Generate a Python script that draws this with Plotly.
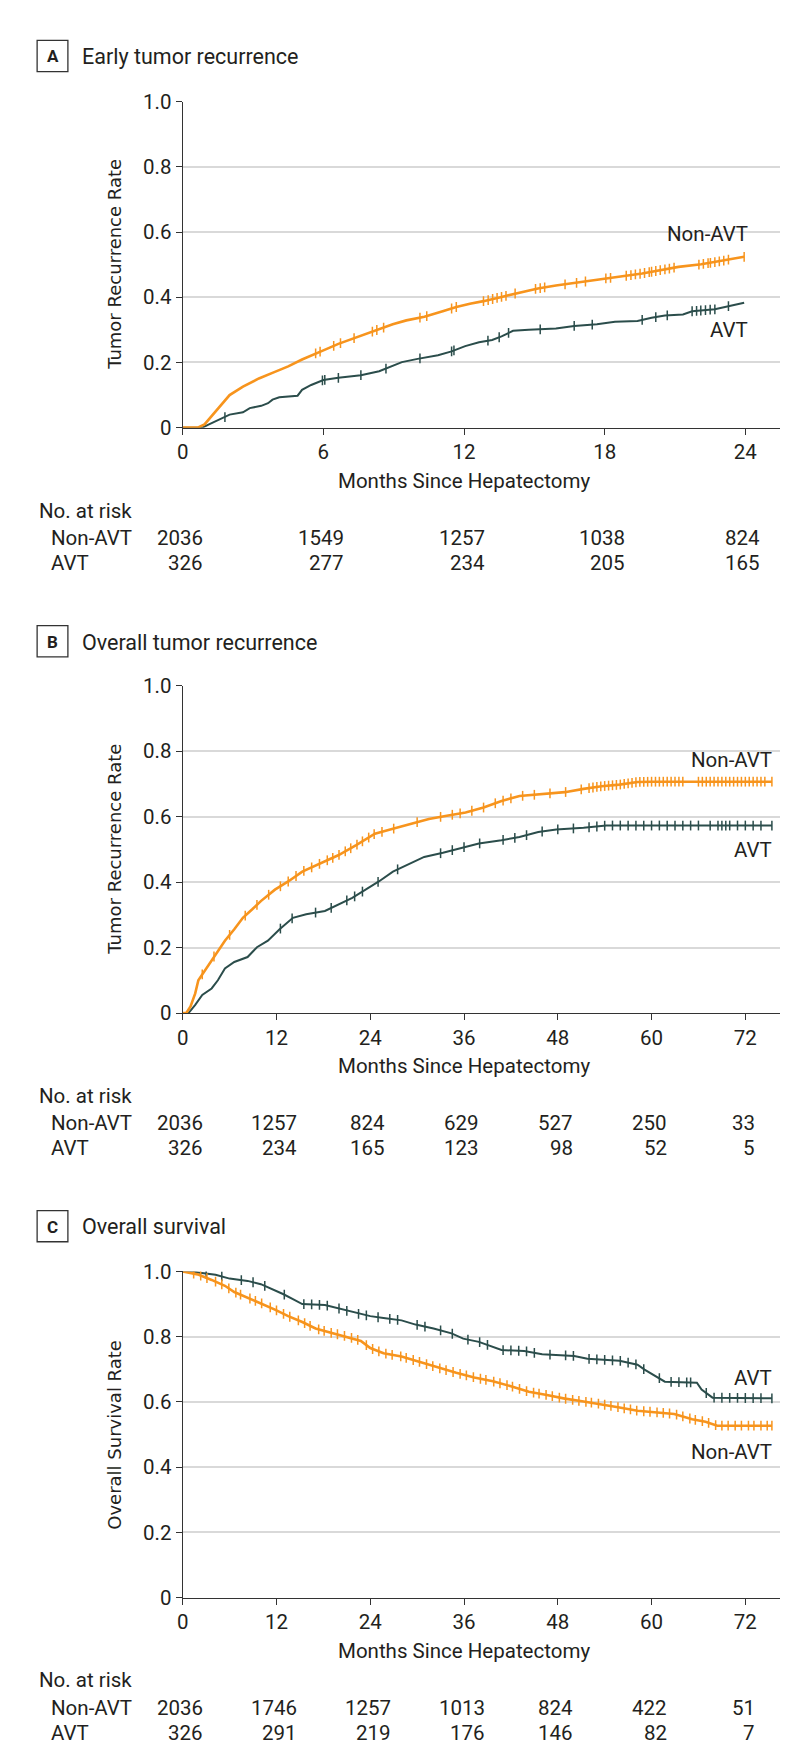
import numpy as np
import plotly.graph_objects as go

W, H = 798, 1764
ORANGE = "#F7941D"
TEAL = "#2B4D4B"
TXT = "#231F20"
FONT = "Roboto, Lato, 'Liberation Sans', sans-serif"
YFONT = "'DejaVu Sans', Verdana, sans-serif"

# ---------------- Panel A: Early tumor recurrence ----------------
a_non_t = [0, 0.64, 0.93, 1.41, 1.8, 2.0, 2.57, 3.25, 3.93, 4.5, 5.09, 5.67, 6.0, 6.64, 7.41, 8.18, 8.96,
           9.54, 10.31, 11.09, 11.67, 12.25, 12.83, 13.6, 14.38, 15.15, 15.92, 16.89, 17.86, 18.83, 19.6,
           20.38, 21.15, 22.12, 22.89, 23.95]
a_non_s = [0, 0, 0.01, 0.05, 0.086, 0.10, 0.126, 0.151, 0.171, 0.188, 0.209, 0.228, 0.237, 0.257, 0.277,
           0.297, 0.317, 0.329, 0.340, 0.357, 0.370, 0.380, 0.388, 0.401, 0.415, 0.427, 0.436, 0.445,
           0.456, 0.465, 0.473, 0.483, 0.493, 0.501, 0.510, 0.524]
a_non_cens = [5.67, 5.86, 6.44, 6.73, 7.31, 8.09, 8.28, 8.57, 10.12, 10.41, 11.47, 11.67, 12.83, 13.03,
              13.22, 13.41, 13.6, 13.79, 14.18, 15.05, 15.25, 15.44, 16.31, 16.8, 17.18, 18.05, 18.25,
              18.92, 19.12, 19.31, 19.51, 19.7, 19.9, 20.0, 20.18, 20.37, 20.57, 20.76, 20.96, 22.02,
              22.21, 22.41, 22.51, 22.7, 22.89, 23.08, 23.28, 23.95]
a_avt_t = [0, 0.83, 1.12, 1.6, 2.0, 2.57, 2.86, 3.35, 3.64, 3.83, 4.12, 4.9, 5.09, 5.48, 6.0, 6.64, 7.6,
           8.38, 8.96, 9.35, 10.02, 10.89, 11.47, 12.05, 12.64, 13.2, 13.6, 14.09, 14.76, 15.92, 16.7,
           17.67, 18.44, 19.4, 20.0, 20.57, 21.34, 21.73, 22.7, 23.28, 23.95]
a_avt_s = [0, 0, 0.01, 0.025, 0.04, 0.047, 0.06, 0.067, 0.075, 0.086, 0.093, 0.098, 0.116, 0.131, 0.146,
           0.153, 0.161, 0.173, 0.189, 0.201, 0.211, 0.222, 0.234, 0.25, 0.262, 0.269, 0.28, 0.297, 0.30,
           0.304, 0.312, 0.317, 0.325, 0.327, 0.337, 0.344, 0.347, 0.357, 0.363, 0.373, 0.383]
a_avt_cens = [1.8, 5.96, 6.06, 6.64, 7.6, 8.67, 10.12, 11.47, 11.57, 13.02, 13.5, 13.9, 15.25, 16.7,
              17.47, 19.6, 20.18, 20.67, 21.73, 21.92, 22.1, 22.3, 22.5, 22.7, 23.28]
a_months = [0, 6, 12, 18, 24]
a_risk_non = [2036, 1549, 1257, 1038, 824]
a_risk_avt = [326, 277, 234, 205, 165]

# ---------------- Panel B: Overall tumor recurrence ----------------
b_non_t = [0, 0.46, 1.0, 1.6, 2.0, 3.1, 4.2, 5.4, 6.6, 7.7, 8.9, 10.0, 11.8, 13.5, 15.3, 17.6, 19.9,
           22.2, 24.6, 26.9, 29.2, 31.5, 33.8, 36.2, 38.5, 40.8, 43.1, 45.5, 48.9, 51.3, 53.6, 55.9,
           58.2, 60.0, 75.4]
b_non_s = [0, 0, 0.02, 0.06, 0.10, 0.14, 0.18, 0.221, 0.256, 0.291, 0.317, 0.342, 0.377, 0.402, 0.432,
           0.457, 0.482, 0.513, 0.548, 0.563, 0.578, 0.593, 0.603, 0.613, 0.628, 0.648, 0.663, 0.668,
           0.675, 0.685, 0.693, 0.698, 0.706, 0.707, 0.707]
b_non_cens = [2.5, 4, 6, 8, 9.5, 11, 12.5, 13.5, 14.5, 15.5, 16.5, 17.5, 18.5, 19.2, 20, 20.8, 21.5,
              22.3, 23, 23.8, 24.5, 25.5, 27, 30, 33, 34.5, 35.5, 37, 38.5, 40, 41, 42, 43.5, 45, 47,
              49, 51, 52, 52.5, 53, 53.5, 54, 54.5, 55, 55.5, 56, 56.5, 57, 57.5, 58, 58.5, 59, 59.5,
              60, 60.5, 61, 61.5, 62, 62.5, 63, 63.5, 64, 66, 66.5, 67, 67.5, 68, 68.5, 69, 69.5, 70,
              70.5, 71, 71.5, 72, 72.5, 73, 73.5, 74, 74.5, 75.4]
b_avt_t = [0, 0.75, 1.6, 2.5, 3.7, 4.5, 5.4, 6.6, 8.3, 9.5, 10.9, 12.4, 14.1, 15.8, 18.2, 19.9, 21.7,
           23.4, 25.1, 26.9, 28.6, 30.9, 33.3, 35.6, 37.9, 40.8, 43.1, 45.5, 47.8, 51.3, 54.2, 75.4]
b_avt_s = [0, 0, 0.025, 0.055, 0.075, 0.10, 0.136, 0.156, 0.171, 0.201, 0.221, 0.256, 0.291, 0.302,
           0.312, 0.332, 0.352, 0.377, 0.402, 0.432, 0.452, 0.477, 0.49, 0.505, 0.518, 0.528, 0.538,
           0.553, 0.561, 0.566, 0.573, 0.573]
b_avt_cens = [12.5, 14, 17, 19, 21, 22, 23, 25, 27.5, 33, 34.5, 36, 38, 41, 42.5, 44, 46, 48, 50, 52,
              53, 54, 55, 56, 57, 58, 59, 60, 61, 62, 63, 64, 65, 66, 67.5, 68.5, 69, 69.5, 70, 71, 72,
              73, 74, 75.4]
b_months = [0, 12, 24, 36, 48, 60, 72]
b_risk_non = [2036, 1257, 824, 629, 527, 250, 33]
b_risk_avt = [326, 234, 165, 123, 98, 52, 5]

# ---------------- Panel C: Overall survival ----------------
c_non_t = [0, 1.9, 3.7, 5.4, 6.6, 8.3, 10.0, 11.8, 13.5, 15.3, 17.0, 18.8, 21.1, 22.8, 24.0, 25.7,
           28.0, 30.4, 32.7, 35.0, 37.3, 39.7, 42.0, 44.3, 46.6, 48.9, 51.3, 53.6, 55.9, 58.2, 60.6,
           62.9, 65.2, 66.9, 68.4, 75.4]
c_non_s = [1.0, 0.991, 0.974, 0.956, 0.937, 0.92, 0.903, 0.883, 0.863, 0.845, 0.825, 0.813, 0.80,
           0.787, 0.765, 0.749, 0.739, 0.722, 0.704, 0.689, 0.675, 0.663, 0.648, 0.631, 0.621, 0.61,
           0.601, 0.593, 0.583, 0.573, 0.568, 0.563, 0.547, 0.539, 0.527, 0.527]
c_non_cens = [1.4, 2.3, 3.1, 4.2, 5.0, 5.9, 6.8, 7.4, 8.6, 9.3, 10.1, 11.2, 12.0, 12.9, 13.7, 14.8,
              15.6, 16.3, 17.4, 18.1, 19.0, 19.8, 20.7, 21.6, 22.4, 23.5, 24.3, 25.1, 26.0, 26.8, 27.9,
              28.6, 29.5, 30.3, 31.2, 32.0, 32.9, 33.7, 34.6, 35.5, 36.3, 37.2, 38.1, 38.8, 39.8, 40.6,
              41.5, 42.2, 43.1, 44.0, 44.9, 45.6, 46.5, 47.3, 48.2, 49.0, 49.9, 50.7, 51.6, 52.3, 53.2,
              54.0, 54.8, 55.7, 56.5, 57.3, 58.1, 59.0, 59.8, 60.7, 61.5, 62.3, 63.2, 64.0, 64.9, 65.6,
              66.5, 67.3, 68.2, 69.0, 69.8, 70.7, 71.5, 72.4, 73.1, 74.0, 74.8, 75.4]
c_avt_t = [0, 1.3, 2.2, 4.2, 6.0, 8.3, 10.0, 11.5, 12.9, 14.1, 15.3, 18.2, 19.9, 21.9, 24.0, 25.7, 28.0,
           29.8, 32.1, 34.4, 35.9, 37.9, 39.7, 40.8, 43.7, 46.0, 50.1, 51.8, 55.9, 58.2, 59.1, 60.6,
           61.7, 65.8, 66.4, 67.8, 75.4]
c_avt_s = [1.0, 1.0, 0.996, 0.99, 0.978, 0.971, 0.961, 0.946, 0.93, 0.915, 0.90, 0.897, 0.887, 0.873,
           0.863, 0.857, 0.85, 0.837, 0.825, 0.81, 0.794, 0.784, 0.769, 0.759, 0.756, 0.746, 0.741,
           0.732, 0.726, 0.714, 0.699, 0.679, 0.662, 0.659, 0.638, 0.613, 0.611]
c_avt_cens = [3, 5, 7.5, 9, 10.5, 13, 15.5, 16.5, 17.5, 18.5, 20, 21, 22.5, 23.5, 25, 26.5, 27.5, 30, 31,
              33, 34.5, 36.5, 38, 39, 41, 42, 43, 44, 45, 47, 49, 50, 52, 53, 54, 55, 56, 57, 58, 59,
              61, 62.5, 63.5, 64.5, 65, 67, 68, 69, 70, 71, 72, 73, 74, 75.4]
c_months = [0, 12, 24, 36, 48, 60, 72]
c_risk_non = [2036, 1746, 1257, 1013, 824, 422, 51]
c_risk_avt = [326, 291, 219, 176, 146, 82, 7]

y_ticks = [0, 0.2, 0.4, 0.6, 0.8, 1.0]
y_ticktext = ["0", "0.2", "0.4", "0.6", "0.8", "1.0"]

panels = [
    dict(letter="A", title="Early tumor recurrence", ytitle="Tumor Recurrence Rate", xmax=25.5,
         months=a_months, risk_non=a_risk_non, risk_avt=a_risk_avt,
         non=(a_non_t, a_non_s, a_non_cens), avt=(a_avt_t, a_avt_s, a_avt_cens),
         lab_x=24.21, lab_non=0.593, lab_avt=0.300),
    dict(letter="B", title="Overall tumor recurrence", ytitle="Tumor Recurrence Rate", xmax=76.5,
         months=b_months, risk_non=b_risk_non, risk_avt=b_risk_avt,
         non=(b_non_t, b_non_s, b_non_cens), avt=(b_avt_t, b_avt_s, b_avt_cens),
         lab_x=75.73, lab_non=0.774, lab_avt=0.497),
    dict(letter="C", title="Overall survival", ytitle="Overall Survival Rate", xmax=76.5,
         months=c_months, risk_non=c_risk_non, risk_avt=c_risk_avt,
         non=(c_non_t, c_non_s, c_non_cens), avt=(c_avt_t, c_avt_s, c_avt_cens),
         lab_x=75.73, lab_non=0.446, lab_avt=0.673),
]

X0, X1 = 170.0, 772.3
TOPS = [82.7, 675.0, 1268.7]
BOTS = [413.3, 1006.7, 1599.3]
TITLE_Y = [37.5, 630.8, 1223.5]
BOX_TOP = [20.7, 614.0, 1207.0]


def pxx(x):
    return x / W


def pxy(y):
    return 1 - y / H


fig = go.Figure()
annotations = []
shapes = []
layout_axes = {}

for i, p in enumerate(panels):
    sfx = "" if i == 0 else str(i + 1)
    xa, ya = "x" + sfx, "y" + sfx
    for key, color, width in (("avt", TEAL, 2.0), ("non", ORANGE, 2.6)):
        t, s, cens = p[key]
        fig.add_trace(go.Scatter(x=t, y=s, mode="lines", line=dict(color=color, width=width),
                                 xaxis=xa, yaxis=ya, hoverinfo="skip", showlegend=False))
        cy = np.interp(cens, t, s)
        fig.add_trace(go.Scatter(x=cens, y=cy, mode="markers",
                                 marker=dict(symbol="line-ns", size=7, color=color,
                                             line=dict(color=color, width=1.5)),
                                 xaxis=xa, yaxis=ya, hoverinfo="skip", showlegend=False))

    layout_axes["xaxis" + sfx] = dict(
        domain=[pxx(X0), pxx(X1)], anchor=ya, range=[0, p["xmax"]],
        tickmode="array", tickvals=p["months"], ticktext=[str(m) for m in p["months"]],
        showline=True, linecolor="#333333", linewidth=1.3, ticks="outside", ticklen=6,
        tickwidth=1.2, tickcolor="#333333", showgrid=False, zeroline=False,
        tickfont=dict(family=FONT, size=20.5, color=TXT), fixedrange=True)
    layout_axes["yaxis" + sfx] = dict(
        domain=[pxy(BOTS[i]), pxy(TOPS[i])], anchor=xa, range=[0, 1.0],
        tickmode="array", tickvals=y_ticks, ticktext=y_ticktext,
        showline=True, linecolor="#333333", linewidth=1.3, ticks="outside", ticklen=6,
        tickwidth=1.2, tickcolor="#333333", showgrid=True, gridcolor="#D9D9D9", gridwidth=1.8,
        zeroline=False, tickfont=dict(family=FONT, size=20.5, color=TXT), fixedrange=True)

    shapes.append(dict(type="rect", xref="paper", yref="paper",
                       x0=pxx(23.3), x1=pxx(54.3), y0=pxy(BOX_TOP[i] + 31.6), y1=pxy(BOX_TOP[i]),
                       line=dict(color="#333333", width=1.3), fillcolor="rgba(0,0,0,0)"))
    annotations.append(dict(text="<b>%s</b>" % p["letter"], xref="paper", yref="paper",
                            x=pxx(38.8), y=pxy(BOX_TOP[i] + 16.3), xanchor="center", yanchor="middle",
                            showarrow=False, font=dict(family=FONT, size=17, color=TXT)))
    annotations.append(dict(text=p["title"], xref="paper", yref="paper",
                            x=pxx(66.0), y=pxy(TITLE_Y[i]), xanchor="left", yanchor="middle",
                            showarrow=False, font=dict(family=FONT, size=21.5, color=TXT)))
    annotations.append(dict(text=p["ytitle"], xref="paper", yref="paper", textangle=-90,
                            x=pxx(101), y=pxy((TOPS[i] + BOTS[i]) / 2), xanchor="center",
                            yanchor="middle", showarrow=False,
                            font=dict(family=YFONT, size=18, color=TXT)))
    annotations.append(dict(text="Months Since Hepatectomy", xref="paper", yref="paper",
                            x=pxx(453.3), y=pxy(BOTS[i] + 54), xanchor="center", yanchor="middle",
                            showarrow=False, font=dict(family=FONT, size=20.5, color=TXT)))
    annotations.append(dict(text="Non-AVT", xref=xa, yref=ya, x=p["lab_x"], y=p["lab_non"],
                            xanchor="right", yanchor="middle", showarrow=False,
                            font=dict(family=FONT, size=20.5, color=TXT)))
    annotations.append(dict(text="AVT", xref=xa, yref=ya, x=p["lab_x"], y=p["lab_avt"],
                            xanchor="right", yanchor="middle", showarrow=False,
                            font=dict(family=FONT, size=20.5, color=TXT)))
    annotations.append(dict(text="No. at risk", xref="paper", yref="paper", x=pxx(23.5),
                            y=pxy(BOTS[i] + 84), xanchor="left", yanchor="middle", showarrow=False,
                            font=dict(family=FONT, size=20.5, color=TXT)))
    for lab, dy in (("Non-AVT", 112), ("AVT", 137)):
        annotations.append(dict(text=lab, xref="paper", yref="paper", x=pxx(35.5),
                                y=pxy(BOTS[i] + dy), xanchor="left", yanchor="middle",
                                showarrow=False, font=dict(family=FONT, size=20.5, color=TXT)))
    for m, rn, ra in zip(p["months"], p["risk_non"], p["risk_avt"]):
        digits = max(len(str(rn)), len(str(ra)))
        shift = 5.65 * digits
        for val, dy in ((rn, 112), (ra, 137)):
            annotations.append(dict(text=str(val), xref=xa, yref="paper", x=m,
                                    y=pxy(BOTS[i] + dy), xanchor="right", yanchor="middle",
                                    xshift=shift, showarrow=False,
                                    font=dict(family=FONT, size=20.5, color=TXT)))

fig.update_layout(
    width=W, height=H, margin=dict(l=0, r=0, t=0, b=0),
    paper_bgcolor="white", plot_bgcolor="white",
    annotations=annotations, shapes=shapes, showlegend=False,
    **layout_axes)

fig.write_html("out.html", config={"displayModeBar": False})
